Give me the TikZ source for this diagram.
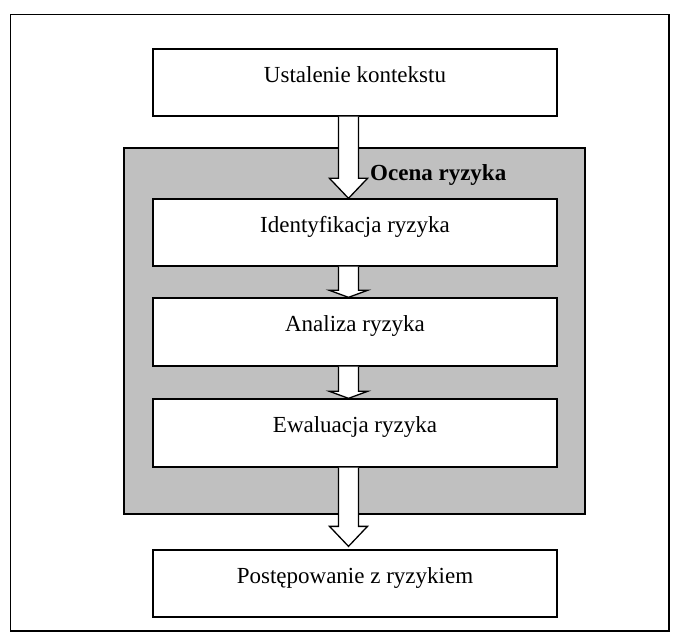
\documentclass[tikz,border=0pt]{standalone}
\usepackage{fontspec}
\setmainfont{Liberation Serif}
\usepackage{xcolor}
\usepackage{tikz}
\usetikzlibrary{calc}

\definecolor{ocenagray}{RGB}{192,192,192}

\tikzset{
  stagebox/.style={draw, line width=1.3pt, fill=white, inner sep=0pt,
    minimum width=404pt, text height=12pt, text depth=12pt,
    font=\fontsize{23}{27}\selectfont},
  bigarrow/.style={draw, line width=1.3pt, fill=white, line join=miter}
}

\newcommand{\bigdownarrow}[3]{%
  \path let \p1=(#1), \p2=(#2) in
    [bigarrow] (\x1-10pt,\y1) -- (\x1-10pt,\y2+#3pt) -- (\x1-19pt,\y2+#3pt)
    -- (\x1,\y2) -- (\x1+19pt,\y2+#3pt) -- (\x1+10pt,\y2+#3pt) -- (\x1+10pt,\y1);
}

\begin{document}
\begin{tikzpicture}[x=1pt, y=-1pt]
\useasboundingbox (0,0) rectangle (686,644);
\draw[line width=1.3pt] (10.5,14.5) rectangle (669,631);
\node[draw, line width=1.3pt, fill=ocenagray, minimum width=461pt, minimum height=366pt] (ocena) at (354.5,331) {};
\node[anchor=base west, inner sep=0pt, font=\fontsize{23}{27}\selectfont\bfseries] (ocenalabel) at (370,181) {Ocena ryzyka};
\node[stagebox, minimum height=67pt] (ctx) at (355,82.5) {Ustalenie kontekstu};
\node[stagebox, minimum height=67pt] (ident) at (355,232.5) {Identyfikacja ryzyka};
\node[stagebox, minimum height=68pt] (anal) at (355,332) {Analiza ryzyka};
\node[stagebox, minimum height=68pt] (ewal) at (355,433) {Ewaluacja ryzyka};
\node[stagebox, minimum height=67pt] (post) at (355,583.5) {Postępowanie z ryzykiem};
\bigdownarrow{[xshift=-6.5pt]ctx.south}{[xshift=-6.5pt]ident.north}{20}
\bigdownarrow{[xshift=-6.5pt]ident.south}{[xshift=-6.5pt]anal.north}{7}
\bigdownarrow{[xshift=-6.5pt]anal.south}{[xshift=-6.5pt]ewal.north}{7}
\bigdownarrow{[xshift=-6.5pt]ewal.south}{[xshift=-6.5pt,yshift=3pt]post.north}{20}
\end{tikzpicture}
\end{document}
